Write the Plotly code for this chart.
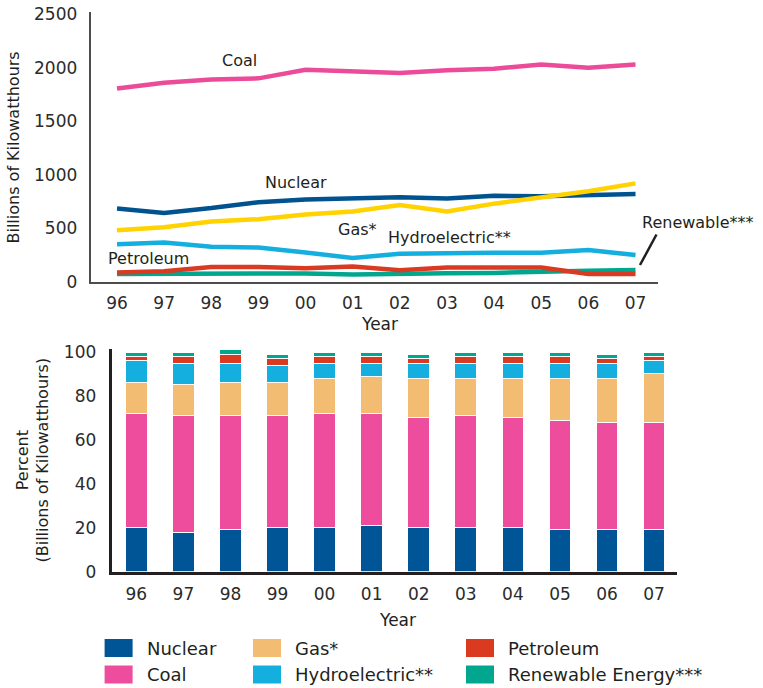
# Electricity generation by source: line chart (billions of kWh) + 100% stacked bars.

import plotly.graph_objects as go

W, H = 763, 688
FONT = "DejaVu Sans"
INK = "#231f20"

YEARS = ["96", "97", "98", "99", "00", "01", "02", "03", "04", "05", "06", "07"]

# generation, billions of kilowatthours (top chart)
GEN_COAL = [1805, 1860, 1890, 1900, 1980, 1960, 1950, 1975, 1990, 2030, 2000, 2030]
GEN_NUCLEAR = [685, 645, 690, 745, 770, 780, 790, 780, 805, 800, 805, 820]
GEN_GAS = [484, 511, 564, 586, 629, 657, 719, 657, 731, 787, 846, 920]
GEN_HYDRO = [353, 369, 328, 322, 276, 223, 263, 273, 273, 273, 298, 251]
GEN_PETROLEUM = [88, 100, 140, 140, 128, 145, 110, 135, 135, 135, 75, 75]
GEN_RENEWABLE = [75, 76, 85, 85, 80, 70, 80, 82, 85, 90, 105, 112]

# share of generation, percent (bottom chart)
PCT_NUCLEAR = [20, 18, 19, 20, 20, 21, 20, 20, 20, 19, 19, 19]
PCT_COAL = [52, 53, 52, 51, 52, 51, 50, 51, 50, 50, 49, 49]
PCT_GAS = [14, 14, 15, 15, 16, 17, 18, 17, 18, 19, 20, 22]
PCT_HYDRO = [10, 10, 9, 8, 7, 6, 7, 7, 7, 7, 7, 6]
PCT_PETROLEUM = [2, 3, 4, 3, 3, 3, 2, 3, 3, 3, 2, 2]
PCT_RENEWABLE = [2, 2, 2, 2, 2, 2, 2, 2, 2, 2, 2, 2]

LEGEND_NAMES = ["Nuclear", "Coal", "Gas*", "Hydroelectric**", "Petroleum", "Renewable Energy***"]


def px_x(x):
    return x / W


def px_y(y):
    return 1 - y / H


fig = go.Figure()

# ---- top: lines ----
lines = [
    (GEN_RENEWABLE, "#00a68e"),
    (GEN_PETROLEUM, "#d93a22"),
    (GEN_HYDRO, "#15afdf"),
    (GEN_NUCLEAR, "#00538f"),
    (GEN_GAS, "#ffd200"),
    (GEN_COAL, "#ec4b9a"),
]
for vals, col in lines:
    fig.add_trace(
        go.Scatter(
            x=YEARS, y=vals, mode="lines", xaxis="x", yaxis="y",
            line=dict(color=col, width=4.5),
            showlegend=False, hoverinfo="skip",
        )
    )

# ---- bottom: stacked bars ----
bars = [
    ("Nuclear", PCT_NUCLEAR, "#005596"),
    ("Coal", PCT_COAL, "#ee4c9c"),
    ("Gas*", PCT_GAS, "#f2bc73"),
    ("Hydroelectric**", PCT_HYDRO, "#14afde"),
    ("Petroleum", PCT_PETROLEUM, "#da3a20"),
    ("Renewable Energy***", PCT_RENEWABLE, "#00a78e"),
]
bar_colors = {}
for name, vals, col in bars:
    bar_colors[name] = col
    fig.add_trace(
        go.Bar(
            x=YEARS, y=vals, name=name, xaxis="x2", yaxis="y2",
            marker=dict(color=col, line=dict(color="white", width=1)),
            showlegend=False,
        )
    )

tickfont = dict(family=FONT, size=17, color="#2b2b2b")

fig.update_layout(
    width=W,
    height=H,
    margin=dict(l=0, r=0, t=0, b=0, autoexpand=False),
    paper_bgcolor="white",
    plot_bgcolor="white",
    font=dict(family=FONT, color=INK),
    barmode="stack",
    bargap=0.54,
    showlegend=False,
    xaxis=dict(
        type="category", domain=[px_x(90.7), px_x(658)], anchor="y",
        range=[-0.558, 11.477], showgrid=False, zeroline=False, automargin=False,
        showline=True, linecolor="#4d4d4d", linewidth=2,
        ticks="", tickfont=tickfont, ticklabelstandoff=5,
    ),
    yaxis=dict(
        domain=[px_y(282), px_y(11.7)], anchor="x",
        range=[0, 2522], tickvals=[0, 500, 1000, 1500, 2000, 2500],
        showgrid=False, zeroline=False, automargin=False,
        showline=True, linecolor="#4d4d4d", linewidth=2,
        ticks="", tickfont=tickfont, ticklabelstandoff=8,
    ),
    xaxis2=dict(
        type="category", domain=[px_x(111.7), px_x(676.7)], anchor="y2",
        range=[-0.523, 11.48], showgrid=False, zeroline=False, automargin=False,
        showline=True, linecolor=INK, linewidth=3,
        ticks="", tickfont=tickfont, ticklabelstandoff=5,
    ),
    yaxis2=dict(
        domain=[px_y(571.7), px_y(349.4)], anchor="x2",
        range=[0, 101.2], tickvals=[0, 20, 40, 60, 80, 100],
        showgrid=False, zeroline=False, automargin=False,
        showline=True, linecolor=INK, linewidth=3,
        ticks="", tickfont=tickfont, ticklabelstandoff=9,
    ),
)

annotations = []


def label(text, x, y, size=16, xanchor="center", angle=0):
    annotations.append(dict(
        text=text, x=px_x(x), y=px_y(y), xref="paper", yref="paper",
        xanchor=xanchor, yanchor="middle", showarrow=False, textangle=angle,
        font=dict(family=FONT, size=size, color=INK),
    ))


# axis titles
label("Billions of Kilowatthours", 13.5, 148, angle=-90)
label("Year", 379, 324, size=17)
label("Percent<br>(Billions of Kilowatthours)", 32.5, 460, angle=-90)
label("Year", 397, 620, size=17)

# series labels on the line chart
label("Coal", 239.5, 60)
label("Nuclear", 295.5, 182)
label("Gas*", 357, 229)
label("Hydroelectric**", 449.5, 237)
label("Petroleum", 148.5, 258)
label("Renewable***", 640, 222.5, xanchor="left")

shapes = [
    dict(type="line", xref="paper", yref="paper",
         x0=px_x(656.5), y0=px_y(234.5), x1=px_x(640), y1=px_y(265),
         line=dict(color=INK, width=2.5)),
]

# legend drawn as swatches + labels, 3 columns x 2 rows
legend_cols = [104.6, 253, 466]
legend_rows = [648, 674.5]
for i, name in enumerate(LEGEND_NAMES):
    cx = legend_cols[i // 2]
    cy = legend_rows[i % 2]
    shapes.append(dict(
        type="rect", xref="paper", yref="paper",
        x0=px_x(cx), x1=px_x(cx + 28), y0=px_y(cy - 9), y1=px_y(cy + 9),
        fillcolor=bar_colors[name], line=dict(width=0),
    ))
    label(name, cx + 40, cy, size=18, xanchor="left")

fig.update_layout(annotations=annotations, shapes=shapes)

# drop the default page margin so the figure fills the window exactly
fig.write_html(
    "out.html",
    config={"displayModeBar": False},
    post_script="document.body.style.margin = '0';",
)
